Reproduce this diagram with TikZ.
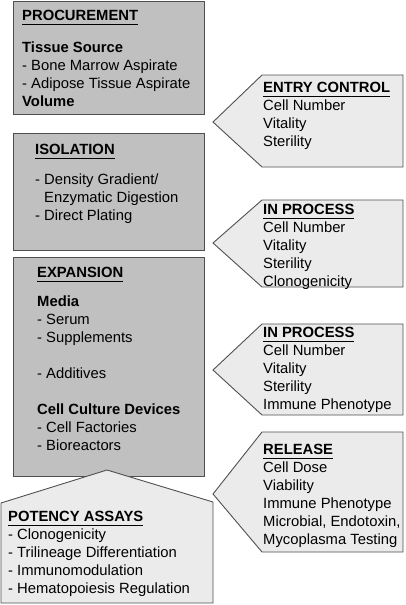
\documentclass[tikz,border=0pt]{standalone}
\usepackage{fontspec}
\setmainfont{Liberation Sans}
\usepackage{tikz}
\definecolor{stagegray}{HTML}{C0C0C0}
\definecolor{checkgray}{HTML}{EBEBEB}
\definecolor{edgegray}{HTML}{505050}
\tikzstyle{stage}=[draw=edgegray, fill=stagegray, line width=0.9pt]
\tikzstyle{check}=[draw=edgegray, fill=checkgray, line width=0.9pt, line join=miter]
\tikzstyle{txt}=[anchor=north west, inner sep=0pt, align=left, font=\fontsize{14.8}{18}\selectfont]
\newcommand{\hdr}[1]{\setbox0\hbox{\bfseries #1}\rlap{\rule[-4pt]{\wd0}{1.4pt}}\box0}
\newcommand{\ind}{\phantom{- }}

\begin{document}
\begin{tikzpicture}[x=1pt, y=-1pt]
	\useasboundingbox (0,0) rectangle (405,605);
	% process stages
	\draw[stage] (13,1) rectangle (204,114);
	\draw[stage] (13,133) rectangle (204,250);
	\draw[stage] (13,257) rectangle (204,476);
	\draw[check] (1,503) -- (107,470) -- (213,502) -- (213,603) -- (1,603) -- cycle;
	% quality controls
	\draw[check] (213,122) -- (262,75) -- (403,75) -- (403,167) -- (262,167) -- cycle;
	\draw[check] (213,243) -- (262,200) -- (403,200) -- (403,287) -- (262,287) -- cycle;
	\draw[check] (213,370) -- (262,324) -- (403,324) -- (403,415) -- (262,415) -- cycle;
	\draw[check] (213,494) -- (262,432) -- (403,432) -- (403,552) -- (262,552) -- cycle;

	\node[txt] (proc) at (22,10.4) {\hdr{PROCUREMENT}\\[14pt]
		\textbf{Tissue Source}\\
		- Bone Marrow Aspirate\\
		- Adipose Tissue Aspirate\\
		\textbf{Volume}};
	\node[txt] (iso) at (35,144.4) {\hdr{ISOLATION}\\[12pt]
		- Density Gradient/\\
		\ind Enzymatic Digestion\\
		- Direct Plating};
	\node[txt] (exp) at (37,267.4) {\hdr{EXPANSION}\\[11pt]
		\textbf{Media}\\
		- Serum\\
		- Supplements\\[18pt]
		- Additives\\[18pt]
		\textbf{Cell Culture Devices}\\
		- Cell Factories\\
		- Bioreactors};
	\node[txt] (pot) at (8,511.4) {\hdr{POTENCY ASSAYS}\\
		- Clonogenicity\\
		- Trilineage Differentiation\\
		- Immunomodulation\\
		- Hematopoiesis Regulation};

	\node[txt] (entry) at (263,82.4) {\hdr{ENTRY CONTROL}\\
		Cell Number\\
		Vitality\\
		Sterility};
	\node[txt] (inproc1) at (263,204.4) {\hdr{IN PROCESS}\\
		Cell Number\\
		Vitality\\
		Sterility\\
		Clonogenicity};
	\node[txt] (inproc2) at (263,327.4) {\hdr{IN PROCESS}\\
		Cell Number\\
		Vitality\\
		Sterility\\
		Immune Phenotype};
	\node[txt] (rel) at (263,444.4) {\hdr{RELEASE}\\
		Cell Dose\\
		Viability\\
		Immune Phenotype\\
		Microbial, Endotoxin,\\
		Mycoplasma Testing};
\end{tikzpicture}
\end{document}
